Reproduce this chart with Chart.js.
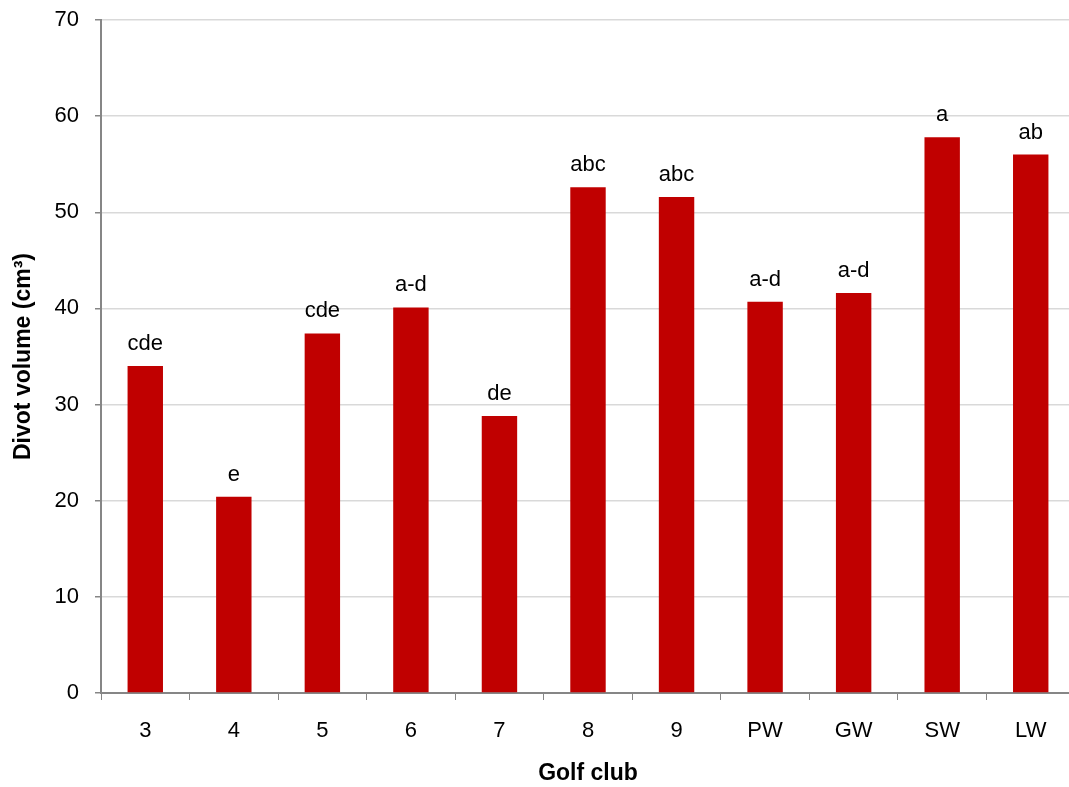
<!DOCTYPE html>
<html>
<head>
<meta charset="utf-8">
<script src="https://cdn.jsdelivr.net/npm/chart.js@4/dist/chart.umd.min.js"></script>
<style>
  html, body { margin: 0; padding: 0; background: #fff; overflow: hidden; }
  #wrap { width: 1075px; height: 787px; }
</style>
</head>
<body>
<div id="wrap"><canvas id="chart"></canvas></div>
<script>
const clubs = ['3', '4', '5', '6', '7', '8', '9', 'PW', 'GW', 'SW', 'LW'];
const divotVolume = [34.0, 20.4, 37.4, 40.1, 28.8, 52.6, 51.6, 40.7, 41.6, 57.8, 56.0];
const groupLetters = ['cde', 'e', 'cde', 'a-d', 'de', 'abc', 'abc', 'a-d', 'a-d', 'a', 'ab'];
const yTicks = [0, 10, 20, 30, 40, 50, 60, 70];

const FONT = "'Liberation Sans', Arial, sans-serif";
const AXIS_GREY = '#868686';

// letters above each bar
const letterLabels = {
    id: 'letterLabels',
    afterDatasetsDraw(chart) {
        const ctx = chart.ctx;
        const meta = chart.getDatasetMeta(0);
        ctx.save();
        ctx.font = `22px ${FONT}`;
        ctx.fillStyle = '#000';
        ctx.textAlign = 'center';
        ctx.textBaseline = 'alphabetic';
        meta.data.forEach((bar, i) => {
            ctx.fillText(groupLetters[i], bar.x, bar.y - 16);
        });
        ctx.restore();
    }
};

new Chart(document.getElementById('chart'), {
    type: 'bar',
    data: {
        labels: clubs,
        datasets: [{
            label: 'Divot volume',
            data: divotVolume,
            backgroundColor: '#c00000',
            barPercentage: 0.4,
            categoryPercentage: 1.0
        }]
    },
    options: {
        responsive: true,
        maintainAspectRatio: false,
        animation: false,
        layout: { padding: { top: 20, right: 0, bottom: 0, left: 10 } },
        plugins: {
            legend: { display: false },
            tooltip: { enabled: false }
        },
        scales: {
            x: {
                afterFit(scale) { scale.height = 94; },
                grid: {
                    offset: true,
                    drawOnChartArea: false,
                    color: AXIS_GREY,
                    tickLength: 7
                },
                border: { color: AXIS_GREY, width: 2 },
                ticks: {
                    color: '#000',
                    font: { family: FONT, size: 22 },
                    padding: 18
                },
                title: {
                    display: true,
                    text: 'Golf club',
                    color: '#000',
                    font: { family: FONT, size: 23, weight: 'bold' },
                    padding: { top: 10, bottom: 0 }
                }
            },
            y: {
                min: 0,
                max: 70,
                afterFit(scale) {
                    scale.width = 91;
                    scale.paddingTop = 0;
                    scale.paddingBottom = 0;
                },
                afterBuildTicks(axis) {
                    axis.ticks = yTicks.map(v => ({ value: v }));
                },
                grid: {
                    color: '#d9d9d9',
                    tickColor: AXIS_GREY,
                    tickLength: 6,
                    lineWidth: 1.5
                },
                border: { color: AXIS_GREY, width: 2 },
                ticks: {
                    color: '#000',
                    font: { family: FONT, size: 22 },
                    padding: 16
                },
                title: {
                    display: true,
                    text: 'Divot volume (cm³)',
                    color: '#000',
                    font: { family: FONT, size: 23, weight: 'bold' },
                    padding: { top: 0, bottom: 5 }
                }
            }
        }
    },
    plugins: [letterLabels]
});
</script>
</body>
</html>
